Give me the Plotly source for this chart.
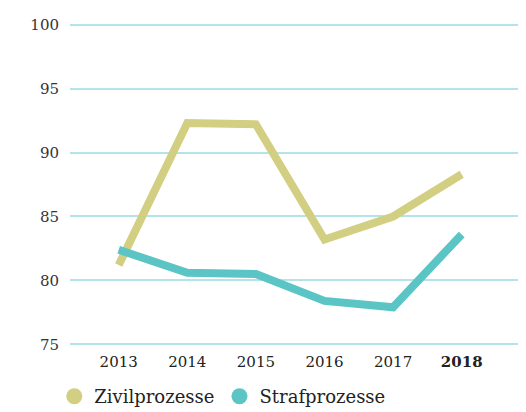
import plotly.graph_objects as go

years = [2013, 2014, 2015, 2016, 2017, 2018]
tick_labels = ["2013", "2014", "2015", "2016", "2017", "<b>2018</b>"]
zivil = [81.2, 92.3, 92.2, 83.2, 85.0, 88.3]
straf = [82.4, 80.6, 80.5, 78.4, 77.9, 83.6]

c_zivil = "#d3cf82"
c_straf = "#5bc5c6"
font_family = "DejaVu Serif"

fig = go.Figure()
fig.add_trace(go.Scatter(x=years, y=zivil, mode="lines", line=dict(color=c_zivil, width=8),
                         showlegend=False, hoverinfo="skip"))
fig.add_trace(go.Scatter(x=years, y=straf, mode="lines", line=dict(color=c_straf, width=8),
                         showlegend=False, hoverinfo="skip"))
fig.add_trace(go.Scatter(x=[None], y=[None], mode="markers", name="Zivilprozesse",
                         marker=dict(color=c_zivil, size=20)))
fig.add_trace(go.Scatter(x=[None], y=[None], mode="markers", name="Strafprozesse",
                         marker=dict(color=c_straf, size=20)))

fig.update_layout(
    width=526, height=412,
    margin=dict(l=62, r=14, t=14, b=73, autoexpand=False),
    paper_bgcolor="white", plot_bgcolor="white",
    font=dict(family=font_family, color="#333333", size=15),
    xaxis=dict(range=[2012.29, 2018.85], tickmode="array", tickvals=years, ticktext=tick_labels,
               showgrid=False, zeroline=False, showline=False, ticks="", automargin=False,
               tickfont=dict(size=15, color="#222222"), ticklabelstandoff=4),
    yaxis=dict(range=[74.8, 100.2], tickvals=[75, 80, 85, 90, 95, 100], showgrid=True,
               gridcolor="#b3e4ea", gridwidth=1.5, zeroline=False, showline=False, ticks="",
               automargin=False,
               tickfont=dict(size=15, color="#333333"), ticklabelstandoff=10),
    legend=dict(orientation="h", xref="container", yref="container",
                x=0.088, xanchor="left", y=0.012, yanchor="bottom",
                font=dict(size=18, color="#222222"), itemsizing="trace",
                itemwidth=30, tracegroupgap=0),
    showlegend=True,
)

fig.write_html("out.html")
